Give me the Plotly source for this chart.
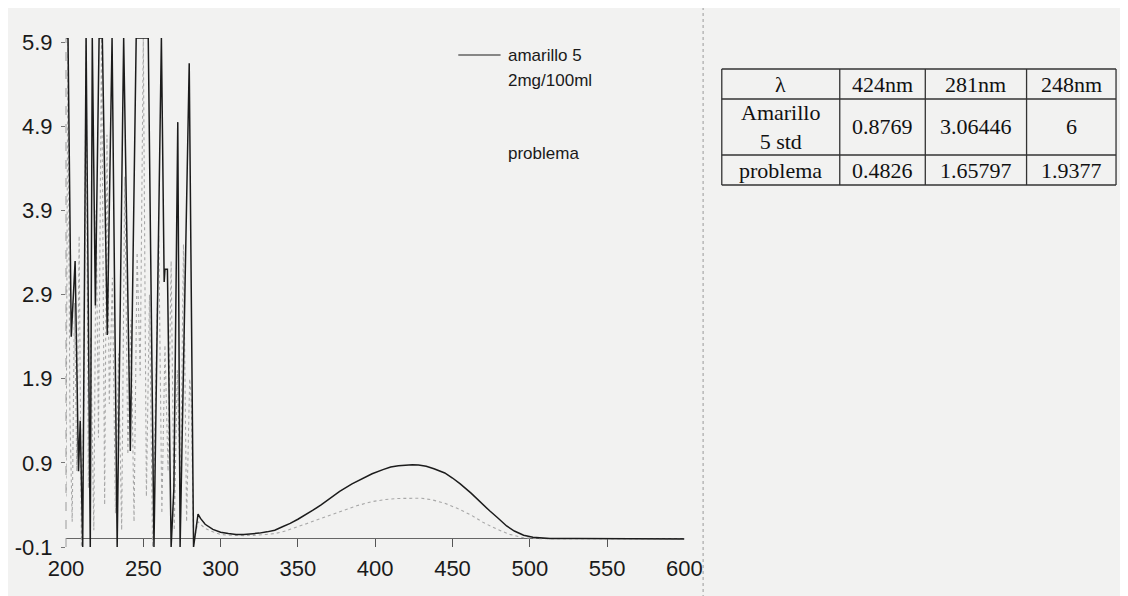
import plotly.graph_objects as go

# ---------------- data ----------------
# standard "amarillo 5 2mg/100ml" (black solid)
std_x = [200.0, 201.3, 203.4, 205.9, 208.1, 209.2, 210.8, 213.0, 215.7, 217.0, 219.0,
         221.4, 223.5, 226.7, 229.8, 233.1, 237.3, 241.6, 245.4, 247.0, 253.2,
         256.9, 261.7, 263.5, 264.0, 265.6, 268.0, 269.8, 272.3, 273.8, 279.7,
         282.5, 284.0, 285.4, 287, 290, 295, 300, 305, 310, 315, 320, 325, 330,
         335, 340, 345, 350, 356, 360, 365, 370, 377, 385, 392, 398, 405, 410,
         415, 420, 424, 428, 433, 438, 445, 450, 455, 462, 468, 474, 479, 485,
         490, 496, 502, 508, 513, 530, 550, 575, 600]
std_y = [5.95, 5.95, 2.40, 3.30, 0.80, 1.40, -0.10, 5.95, -0.10, 5.95, 2.77,
         5.95, 5.95, 2.42, 5.95, -0.10, 5.95, 1.04, 5.95, 5.95, 5.95,
         -0.10, 5.95, 3.05, 3.20, 3.20, -0.10, 0.60, 4.95, -0.10, 5.65,
         -0.10, 0.10, 0.29, 0.24, 0.17, 0.11, 0.075, 0.06, 0.05, 0.05, 0.055, 0.065, 0.08,
         0.10, 0.14, 0.18, 0.23, 0.29, 0.34, 0.40, 0.47, 0.56, 0.65, 0.72, 0.77, 0.82, 0.85,
         0.865, 0.875, 0.877, 0.875, 0.86, 0.83, 0.78, 0.72, 0.65, 0.54, 0.43, 0.33, 0.25, 0.15,
         0.09, 0.04, 0.015, 0.005, 0.0, 0.0, 0.0, -0.005, -0.005]

# sample "problema" (grey dotted)
prob_x = [200.0, 201.2, 202.5, 204, 205.5, 207, 208.5, 210, 211.5, 213, 214.5, 216,
          218, 219.5, 221, 223, 225, 226.5, 228, 230, 232, 234, 236, 238, 240,
          242, 244, 246, 248, 250, 252, 254, 256, 258, 260, 262, 264, 266, 268,
          270, 272, 274, 276, 278, 280, 281, 282.5, 284, 285.4, 287, 290, 295,
          300, 305, 310, 315, 320, 325, 330, 335, 340, 345, 350, 356, 365, 377,
          388, 398, 407, 415, 424, 430, 437, 445, 453, 462, 470, 479, 487, 496,
          505, 530, 560, 600]
prob_y = [0.5, 5.95, 1.5, 0.2, 2.8, 0.8, 3.6, -0.1, 1.6, 5.95, 0.6, 2.4,
          0.1, 3.9, 1.2, 5.95, 0.4, 4.8, 1.6, 3.1, 0.3, 2.2, 0.1, 4.3, 1.0,
          2.6, 0.2, 3.4, 1.94, 5.95, 0.5, 2.9, -0.1, 1.7, 3.6, 0.3, 2.3, 0.8, 3.3,
          0.1, 2.0, 0.5, 3.5, 0.2, 1.9, 1.66, 0.0, 0.08, 0.20, 0.17, 0.12, 0.08,
          0.05, 0.04, 0.035, 0.035, 0.037, 0.04, 0.05, 0.06, 0.08, 0.11, 0.14, 0.18, 0.24, 0.32,
          0.39, 0.44, 0.465, 0.477, 0.483, 0.48, 0.46, 0.42, 0.36, 0.28, 0.19, 0.11, 0.05, 0.01,
          0.0, 0.0, 0.0, 0.0]

x_ticks = [200, 250, 300, 350, 400, 450, 500, 550, 600]
y_ticks = [-0.1, 0.9, 1.9, 2.9, 3.9, 4.9, 5.9]

table_header = ["λ", "424nm", "281nm", "248nm"]
table_row_std = ["Amarillo<br>5 std", "0.8769", "3.06446", "6"]
table_row_prob = ["problema", "0.4826", "1.65797", "1.9377"]

legend_std = ["amarillo 5", "2mg/100ml"]
legend_prob = "problema"

# ---------------- geometry (screen pixels -> paper) ----------------
W, H = 1128, 596
ML, MR, MT, MB = 58, 0, 30, 596 - 539
PW, PH = W - ML - MR, H - MT - MB


def px(x):
    return (x - ML) / PW


def py(y):
    return (H - MB - y) / PH


BG = "#f2f2f1"
INK = "#1a1a1a"
SANS = "Liberation Sans, Arial, sans-serif"
SERIF = "Liberation Serif, Times New Roman, serif"

fig = go.Figure()

fig.add_trace(go.Scatter(x=prob_x, y=prob_y, mode="lines",
                         line=dict(color="#a8a8a8", width=1.1, dash="dot"),
                         showlegend=False, hoverinfo="skip"))
fig.add_trace(go.Scatter(x=std_x, y=std_y, mode="lines",
                         line=dict(color="#1c1c1c", width=1.5),
                         showlegend=False, hoverinfo="skip"))

shapes = [
    dict(type="line", xref="paper", yref="paper", x0=0, x1=0, y0=0, y1=1,
         line=dict(color="#9a9a9a", width=1, dash="dash")),
    dict(type="line", xref="paper", yref="paper", x0=px(706), x1=px(706),
         y0=py(596), y1=py(0), line=dict(color="#9a9a9a", width=1, dash="dot")),
    dict(type="line", xref="paper", yref="paper", x0=px(457), x1=px(500),
         y0=py(47), y1=py(47), line=dict(color="#1c1c1c", width=1.2)),
]
annotations = [
    dict(xref="paper", yref="paper", x=px(506), y=py(47), text=legend_std[0],
         showarrow=False, xanchor="left", yanchor="middle",
         font=dict(family=SANS, size=17, color=INK)),
    dict(xref="paper", yref="paper", x=px(506), y=py(73), text=legend_std[1],
         showarrow=False, xanchor="left", yanchor="middle",
         font=dict(family=SANS, size=17, color=INK)),
    dict(xref="paper", yref="paper", x=px(506), y=py(145), text=legend_prob,
         showarrow=False, xanchor="left", yanchor="middle",
         font=dict(family=SANS, size=17, color=INK)),
]

# ---------------- table (grid lines + cell texts) ----------------
col_edges = [725, 845, 932, 1035, 1126]
row_edges = [61, 91, 147, 177]
rows = [table_header, table_row_std, table_row_prob]
TL = dict(color="#333333", width=1.3)
for xe in col_edges:
    shapes.append(dict(type="line", xref="paper", yref="paper", x0=px(xe), x1=px(xe),
                       y0=py(row_edges[0]), y1=py(row_edges[-1]), line=TL))
for ye in row_edges:
    shapes.append(dict(type="line", xref="paper", yref="paper", x0=px(col_edges[0]),
                       x1=px(col_edges[-1]), y0=py(ye), y1=py(ye), line=TL))
for r, row in enumerate(rows):
    yc = (row_edges[r] + row_edges[r + 1]) / 2
    for c, txt in enumerate(row):
        xc = (col_edges[c] + col_edges[c + 1]) / 2
        annotations.append(dict(xref="paper", yref="paper", x=px(xc), y=py(yc),
                                text=txt, showarrow=False, xanchor="center",
                                yanchor="middle", align="center",
                                font=dict(family=SERIF, size=22, color="#111111")))

fig.update_layout(
    width=W, height=H,
    margin=dict(l=ML, r=MR, t=MT, b=MB),
    paper_bgcolor=BG, plot_bgcolor=BG,
    showlegend=False,
    xaxis=dict(domain=[0, px(687)], range=[200, 600], tickvals=x_ticks,
               ticks="inside", ticklen=8, tickcolor="#555555",
               showgrid=False, zeroline=False, showline=False,
               tickfont=dict(family=SANS, size=22, color=INK),
               ticklabelstandoff=6),
    yaxis=dict(range=[-0.1, 5.95], tickvals=y_ticks, ticktext=[str(v) for v in y_ticks],
               ticks="outside", ticklen=4, tickcolor="#777777",
               showgrid=False, zeroline=True, zerolinecolor="#666666", zerolinewidth=1,
               showline=False,
               tickfont=dict(family=SANS, size=22, color=INK),
               ticklabelstandoff=4),
    shapes=shapes,
    annotations=annotations,
)

fig.write_html("out.html")
